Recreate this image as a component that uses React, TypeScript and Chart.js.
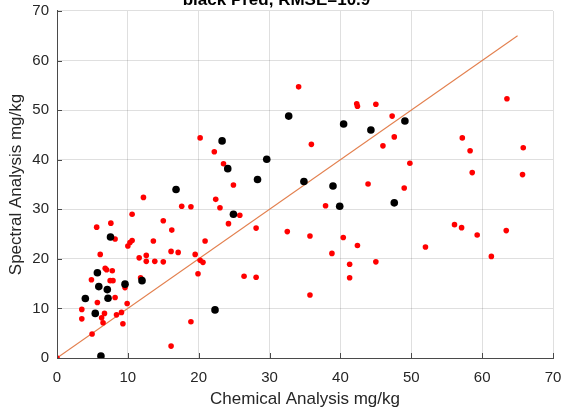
import React, { useEffect, useRef } from "react";
import { Chart, registerables } from "chart.js";

Chart.register(...registerables);

const titleText = "black Pred, RMSE=10.9";
const xLabel = "Chemical Analysis mg/kg";
const yLabel = "Spectral Analysis mg/kg";
const axisMin = 0;
const axisMax = 70;
const tickStep = 10;
const lineEnds = [0, 65];

const blackX = [6.2, 5.4, 4.0, 5.7, 5.9, 7.1, 7.2, 7.55, 9.6, 12.0, 16.8, 22.3, 24.9, 28.3, 23.3, 24.1, 29.6, 32.7, 34.85, 38.95, 40.45, 44.3, 49.1, 39.9, 47.6];
const blackY = [0.4, 9.0, 12.0, 17.2, 14.4, 13.8, 12.05, 24.4, 14.9, 15.6, 34.0, 9.7, 29.0, 36.0, 43.8, 38.2, 40.1, 48.8, 35.6, 34.7, 47.2, 46.0, 47.8, 30.6, 31.3];

const redX = [0, 16.1, 3.5, 3.5, 4.95, 4.86, 5.6, 5.7, 6.1, 6.3, 6.5, 6.7, 6.8, 7.0, 7.6, 7.8, 7.5, 7.9, 8.2, 8.2, 8.4, 9.1, 9.3, 9.6, 9.9, 10.0, 10.3, 10.6, 10.6, 11.6, 11.8, 12.2, 12.6, 12.6, 13.6, 13.8, 15.0, 15.0, 16.2, 16.1, 17.1, 17.6, 18.9, 18.9, 19.5, 19.9, 20.2, 20.6, 20.9, 22.4, 23.0, 24.2, 24.9, 25.8, 26.4, 28.1, 28.1, 32.5, 20.2, 22.2, 23.5, 34.1, 35.9, 42.3, 42.4, 45.0, 47.3, 47.6, 46.0, 49.8, 43.9, 49.0, 63.5, 57.2, 58.3, 65.8, 58.6, 65.7, 37.9, 35.7, 40.4, 38.8, 42.4, 41.3, 45.0, 41.3, 35.7, 52.0, 56.1, 57.1, 59.3, 63.4, 61.3];
const redY = [0, 2.4, 9.8, 7.9, 4.85, 15.8, 26.4, 11.2, 20.9, 8.1, 7.1, 9.0, 18.1, 17.8, 27.2, 17.6, 15.6, 15.6, 24.0, 12.2, 8.7, 9.2, 6.9, 14.2, 11.0, 22.6, 23.3, 23.7, 29.0, 20.2, 16.2, 32.4, 20.7, 19.5, 23.6, 19.5, 27.7, 19.4, 25.8, 21.5, 21.3, 30.6, 30.5, 7.3, 20.9, 17.0, 19.7, 19.3, 23.6, 32.0, 30.3, 27.1, 34.9, 28.8, 16.5, 26.2, 16.3, 25.5, 44.4, 41.6, 39.2, 54.7, 43.1, 51.3, 50.8, 51.2, 48.8, 44.6, 42.8, 39.3, 35.1, 34.3, 52.3, 44.4, 41.8, 42.4, 37.4, 37.0, 30.7, 24.6, 24.3, 21.1, 22.7, 18.9, 19.4, 16.2, 12.7, 22.4, 26.9, 26.3, 24.8, 25.7, 20.5];

const FONT = "'Liberation Sans', Arial, Helvetica, sans-serif";
const TEXT = "#262626";
const AXIS = "#4a4a4a";
const GRID = "rgba(38,38,38,0.15)";

const inwardTicks = {
  id: "inwardTicks",
  afterDraw(chart: any) {
    const { ctx, chartArea, scales } = chart;
    ctx.save();
    ctx.strokeStyle = AXIS;
    ctx.lineWidth = 1;
    const len = 5;
    scales.x.ticks.forEach((t: any) => {
      const px = Math.round(scales.x.getPixelForValue(t.value)) + 0.5;
      ctx.beginPath();
      ctx.moveTo(px, chartArea.bottom);
      ctx.lineTo(px, chartArea.bottom - len);
      ctx.stroke();
    });
    scales.y.ticks.forEach((t: any) => {
      const py = Math.round(scales.y.getPixelForValue(t.value)) + 0.5;
      ctx.beginPath();
      ctx.moveTo(chartArea.left, py);
      ctx.lineTo(chartArea.left + len, py);
      ctx.stroke();
    });
    ctx.restore();
  },
};

export default function App() {
  const ref = useRef<HTMLCanvasElement | null>(null);
  useEffect(() => {
    if (!ref.current) return;
    const black = blackX.map((x, i) => ({ x, y: blackY[i] }));
    const red = redX.map((x, i) => ({ x, y: redY[i] }));
    const line = lineEnds.map((v) => ({ x: v, y: v }));
    const chart = new Chart(ref.current, {
      type: "scatter",
      data: {
        datasets: [
          { label: "Pred", data: black, backgroundColor: "#000000", borderWidth: 0, pointRadius: 3.8, pointHoverRadius: 3.8 },
          { label: "Cal", data: red, backgroundColor: "#ff0000", borderWidth: 0, pointRadius: 2.8, pointHoverRadius: 2.8 },
          { label: "1:1", data: line, showLine: true, borderColor: "#e3804f", borderWidth: 1.1, pointRadius: 0, backgroundColor: "#e3804f" } as any,
        ],
      },
      options: {
        animation: false,
        responsive: true,
        maintainAspectRatio: false,
        layout: { padding: { left: 0, right: 13, top: 0, bottom: 0 } },
        plugins: {
          legend: { display: false },
          tooltip: { enabled: false },
          title: {
            display: true,
            text: titleText,
            color: "#000000",
            font: { family: FONT, size: 17, weight: "bold", lineHeight: 1.2 },
            padding: { top: -10, bottom: 0.6 },
          },
        },
        scales: {
          x: {
            type: "linear",
            min: axisMin,
            max: axisMax,
            ticks: { stepSize: tickStep, color: TEXT, font: { family: FONT, size: 15 }, padding: 0, maxRotation: 0 },
            grid: { color: GRID, drawTicks: true, tickLength: 11, tickColor: "rgba(0,0,0,0)", lineWidth: 1 },
            border: { display: true, color: AXIS, width: 1 },
            title: { display: true, text: xLabel, color: TEXT, font: { family: FONT, size: 17, lineHeight: 1.2 }, padding: { top: 0, bottom: 1 } },
            afterFit(scale: any) { scale.height = 53; },
          },
          y: {
            type: "linear",
            min: axisMin,
            max: axisMax,
            ticks: { stepSize: tickStep, color: TEXT, font: { family: FONT, size: 15 }, padding: 0 },
            grid: { color: GRID, drawTicks: true, tickLength: 8, tickColor: "rgba(0,0,0,0)", lineWidth: 1 },
            border: { display: true, color: AXIS, width: 1 },
            title: { display: true, text: yLabel, color: TEXT, font: { family: FONT, size: 17, lineHeight: 1.2 }, padding: { top: 6, bottom: 0 } },
            afterFit(scale: any) { scale.width = 57; },
          },
        },
      },
      plugins: [inwardTicks],
    });
    return () => chart.destroy();
  }, []);
  return (
    <div style={{ position: "absolute", left: 0, top: 0, width: 566, height: 411, background: "#ffffff" }}>
      <canvas ref={ref} />
    </div>
  );
}
